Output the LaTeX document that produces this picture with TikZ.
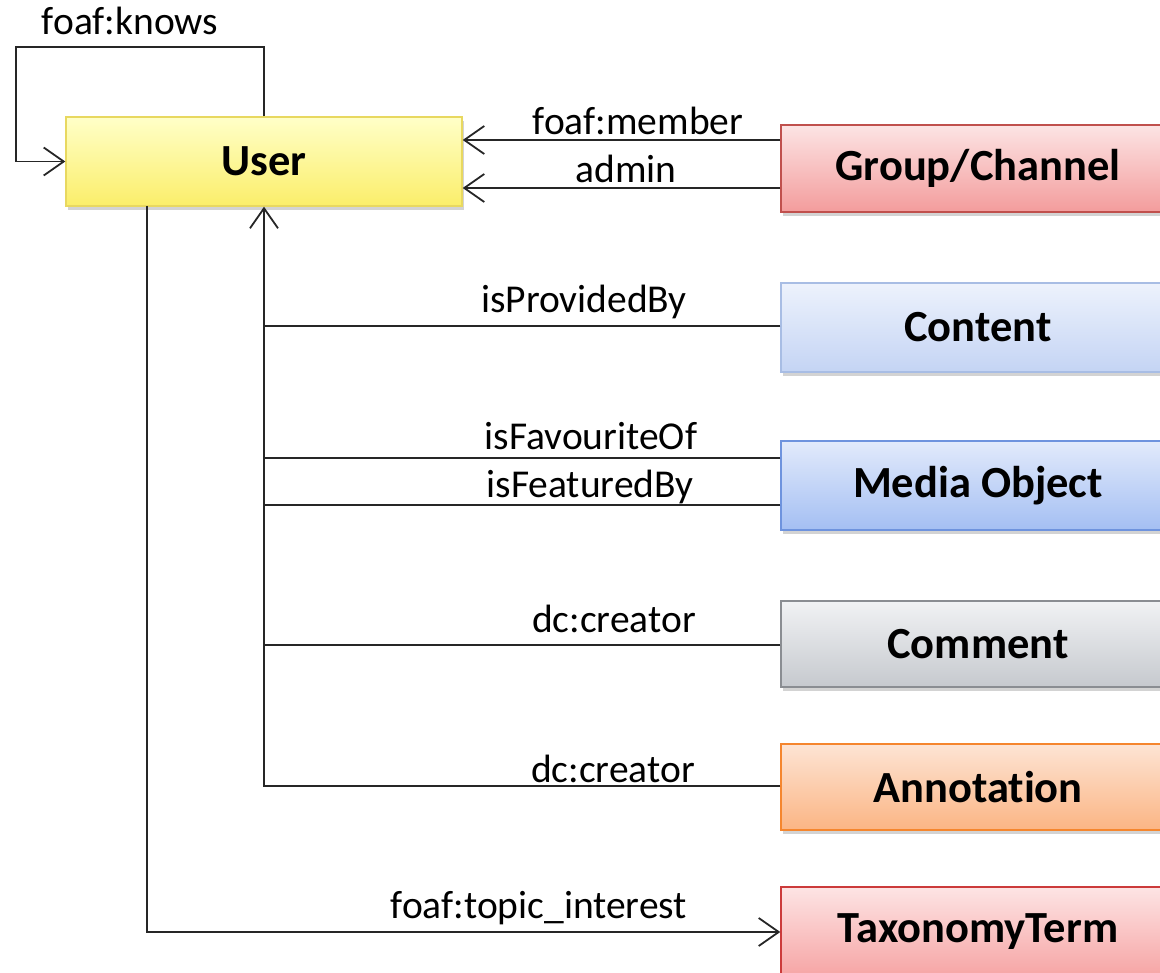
\documentclass[tikz,border=0pt]{standalone}
\usepackage{fontspec}
\setmainfont{Carlito}[Ligatures={NoCommon}]
\usetikzlibrary{arrows.meta,shadows}
\tikzset{
  box/.style={rectangle, draw, line width=1.4pt, minimum width=394pt, minimum height=88pt,
    inner sep=0pt, font=\fontsize{44.5}{50}\selectfont\bfseries,
    drop shadow={opacity=0.35, shadow xshift=2pt, shadow yshift=-4pt}},
  lbl/.style={font=\fontsize{39.5}{46}\selectfont, anchor=base, inner sep=0pt},
  conn/.style={line width=1.8pt, draw=black!85},
  arr/.style={conn, -{Straight Barb[length=20pt,width=28pt]}},
}
\definecolor{userT}{HTML}{FFFFC8}\definecolor{userB}{HTML}{FBEE6A}\definecolor{userD}{HTML}{E8D860}
\definecolor{grpT}{HTML}{FCE4E4}\definecolor{grpB}{HTML}{F39C9C}\definecolor{grpD}{HTML}{C0504D}
\definecolor{conT}{HTML}{EDF2FC}\definecolor{conB}{HTML}{C4D4F4}\definecolor{conD}{HTML}{A8BDE4}
\definecolor{medT}{HTML}{E2EAFB}\definecolor{medB}{HTML}{A4BFF3}\definecolor{medD}{HTML}{6E93DE}
\definecolor{comT}{HTML}{F1F2F4}\definecolor{comB}{HTML}{C6C9CE}\definecolor{comD}{HTML}{8A8D92}
\definecolor{annT}{HTML}{FDE4D4}\definecolor{annB}{HTML}{FBB584}\definecolor{annD}{HTML}{F5862E}
\definecolor{taxT}{HTML}{FDE4E4}\definecolor{taxB}{HTML}{F6A4A4}\definecolor{taxD}{HTML}{CC3B3B}
\begin{document}
\begin{tikzpicture}[x=1pt,y=-1pt]
\useasboundingbox (0,0) rectangle (1160,973);
\clip (0,0) rectangle (1160,973);
\node[box, draw=userD, top color=userT, bottom color=userB, minimum width=396pt, minimum height=89pt] (user) at (264,161.5) {User};
\node[box, draw=grpD, top color=grpT, bottom color=grpB, minimum height=87pt] (group) at (978,168.5) {Group/Channel};
\node[box, draw=conD, top color=conT, bottom color=conB, minimum height=89pt] (content) at (978,327.5) {Content};
\node[box, draw=medD, top color=medT, bottom color=medB, minimum height=89pt] (media) at (978,485.5) {Media Object};
\node[box, draw=comD, top color=comT, bottom color=comB, minimum height=86pt] (comment) at (978,644) {Comment};
\node[box, draw=annD, top color=annT, bottom color=annB, minimum height=86pt] (annot) at (978,787) {Annotation};
\node[box, draw=taxD, top color=taxT, bottom color=taxB, minimum height=90pt] (tax) at (978,932) {TaxonomyTerm};

% foaf:knows loop
\coordinate (kn) at (16,47);
\draw[arr] (user.north) |- (kn) |- (user.west);
\node[lbl] (lknows) at (130,35) {foaf:knows};

% group -> user
\draw[arr] (group.west |- 0,140) -- (user.east |- 0,140);
\draw[arr] (group.west |- 0,188) -- (user.east |- 0,188);
\node[lbl] (lmember) at (638,135) {foaf:member};
\node[lbl] (ladmin) at (626,183) {admin};

% trunk
\coordinate (tb) at (264,786);
\draw[arr] (annot.west |- tb) -- (tb) -- (user.south);
\draw[conn] (content.west |- 0,326) -- (tb |- 0,326);
\draw[conn] (media.west |- 0,458) -- (tb |- 0,458);
\draw[conn] (media.west |- 0,505) -- (tb |- 0,505);
\draw[conn] (comment.west |- 0,645) -- (tb |- 0,645);
\node[lbl] (lprov) at (584,313) {isProvidedBy};
\node[lbl] (lfav) at (591,450) {isFavouriteOf};
\node[lbl] (lfeat) at (590,498) {isFeaturedBy};
\node[lbl] (lcr1) at (614,632) {dc:creator};
\node[lbl] (lcr2) at (613,782) {dc:creator};

% topic interest
\coordinate (ul) at (147,206);
\draw[arr] (ul) |- (tax.west);
\node[lbl] (ltopic) at (539,918) {foaf:topic\_interest};
\end{tikzpicture}
\end{document}
